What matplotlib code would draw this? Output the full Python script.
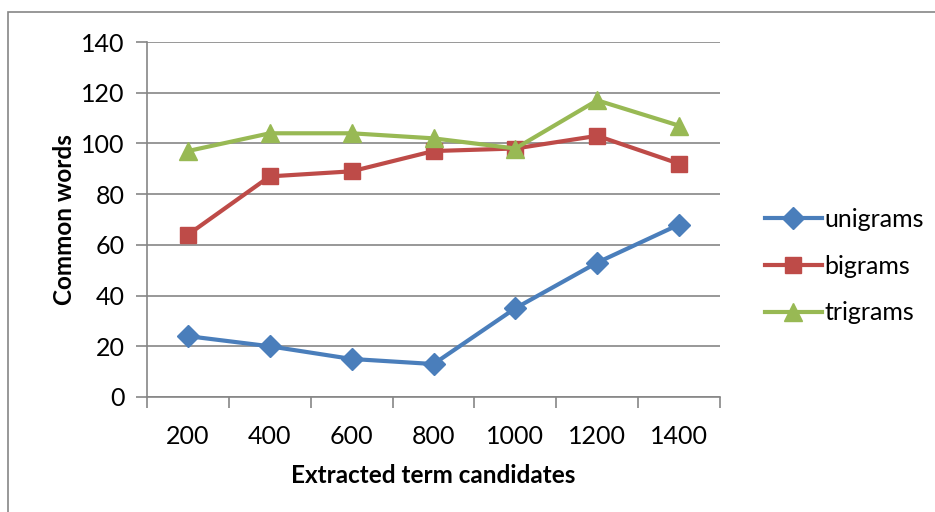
import matplotlib.pyplot as plt
from matplotlib.patches import Rectangle

categories = ['200', '400', '600', '800', '1000', '1200', '1400']
unigrams = [24, 20, 15, 13, 35, 53, 68]
bigrams = [64, 87, 89, 97, 98, 103, 92]
trigrams = [97, 104, 104, 102, 98, 117, 107]

plt.rcParams['font.family'] = ['Lato', 'DejaVu Sans']

fig = plt.figure(figsize=(9.35, 5.12), dpi=100)
ax = fig.add_axes([147/935, 1 - 397/512, 573/935, 355/512])

# outer chart border (only top/left visible in the reference)
fig.patches.append(Rectangle((8/935, -0.1), 1.2, 1 - 12/512 + 0.1, transform=fig.transFigure,
                             fill=False, edgecolor='#868686', linewidth=1.2))

x = list(range(len(categories)))
ax.plot(x, unigrams, color='#4A7EBB', lw=3, marker='D', ms=11, label='unigrams')
ax.plot(x, bigrams, color='#BE4B48', lw=3, marker='s', ms=12, label='bigrams')
ax.plot(x, trigrams, color='#98B954', lw=3, marker='^', ms=13, label='trigrams')

ax.set_xlim(-0.5, len(categories) - 0.5)
ax.set_ylim(0, 140)
ax.set_yticks(range(0, 141, 20))
ax.set_xticks(x)
ax.set_xticklabels(categories)
ax.set_xticks([i - 0.5 for i in range(len(categories) + 1)], minor=True)
ax.tick_params(axis='x', which='major', length=0, pad=20, labelsize=18)
ax.tick_params(axis='x', which='minor', length=8, color='#868686', width=1.2)
ax.tick_params(axis='y', length=8, color='#868686', width=1.2, labelsize=18, pad=8)

ax.grid(axis='y', color='#868686', lw=1.2)
ax.set_axisbelow(True)
for s in ['top', 'right']:
    ax.spines[s].set_visible(False)
for s in ['left', 'bottom']:
    ax.spines[s].set_color('#868686')
    ax.spines[s].set_linewidth(1.2)

ax.set_xlabel('Extracted term candidates', fontsize=17.5, fontweight='bold', labelpad=12)
ax.set_ylabel('Common words', fontsize=17.5, fontweight='bold', labelpad=4)

fig.legend(loc='center left', bbox_to_anchor=(752/935, 1 - 266/512), frameon=False, borderpad=0,
           fontsize=18, handlelength=2.3, handletextpad=0.1, labelspacing=0.95)

fig.savefig('out.png', dpi=100)
